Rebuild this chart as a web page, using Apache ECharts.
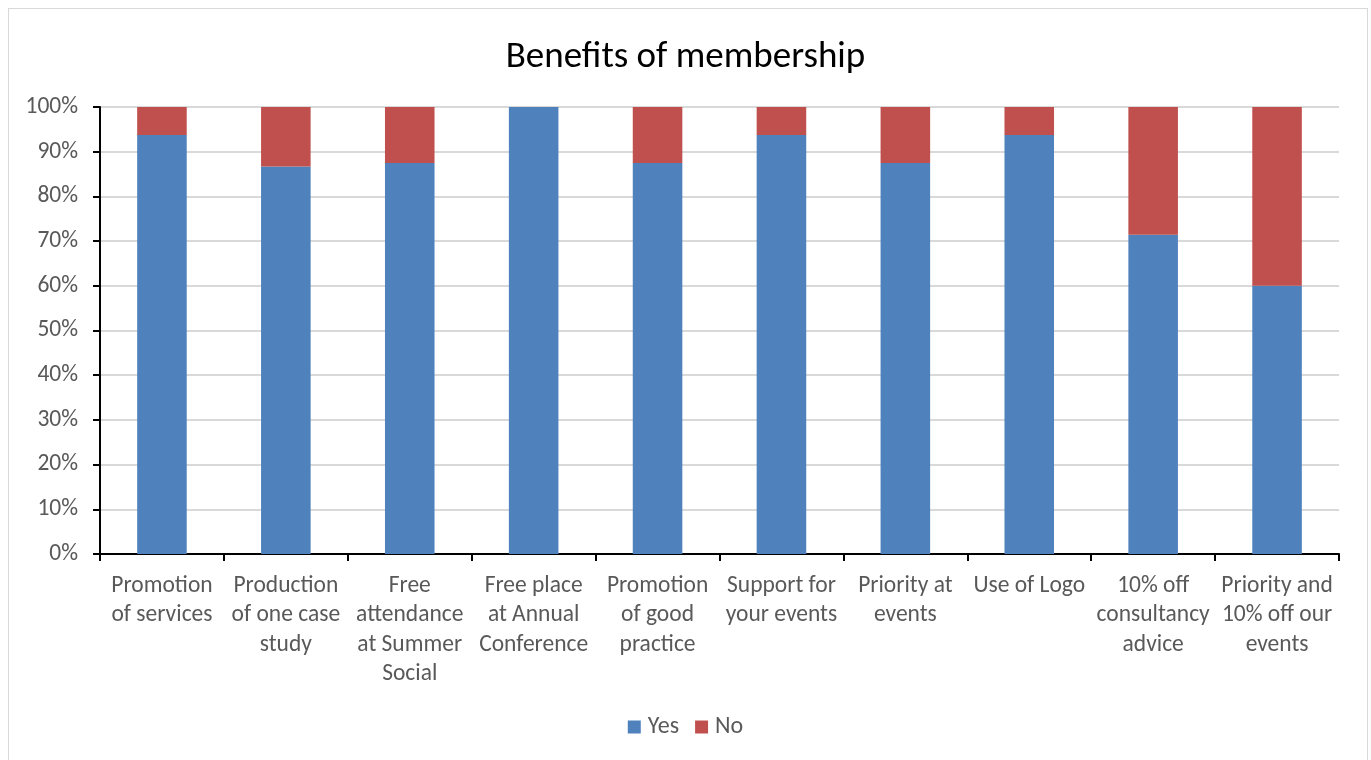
<!DOCTYPE html>
<html>
<head>
<meta charset="utf-8">
<script src="https://cdn.jsdelivr.net/npm/echarts@6/dist/echarts.min.js"></script>
<style>
  html, body { margin: 0; padding: 0; background: #fff; }
  #frame {
    position: absolute; left: 8px; top: 8px; width: 1360px; height: 760px;
    border: 1px solid #d9d9d9; box-sizing: border-box; border-bottom: none;
  }
  #chart { position: absolute; left: 0; top: 0; width: 1371px; height: 760px; }
</style>
</head>
<body>
<div id="frame"></div>
<div id="chart"></div>
<script>
const categories = [
  "Promotion\nof services",
  "Production\nof one case\nstudy",
  "Free\nattendance\nat Summer\nSocial",
  "Free place\nat Annual\nConference",
  "Promotion\nof good\npractice",
  "Support for\nyour events",
  "Priority at\nevents",
  "Use of Logo",
  "10% off\nconsultancy\nadvice",
  "Priority and\n10% off our\nevents"
];
const yesValues = [93.75, 86.67, 87.5, 100, 87.5, 93.75, 87.5, 93.75, 71.43, 60];
const noValues = [6.25, 13.33, 12.5, 0, 12.5, 6.25, 12.5, 6.25, 28.57, 40];

const font = "Calibri, Carlito, 'Noto Sans', sans-serif";
const chart = echarts.init(document.getElementById("chart"));
chart.setOption({
  animation: false,
  color: ["#4f81bd", "#c0504d"],
  title: {
    text: "Benefits of membership",
    left: "center",
    top: 34,
    textStyle: { fontFamily: font, fontSize: 37, fontWeight: "normal", color: "#000" }
  },
  legend: {
    data: ["Yes", "No"],
    bottom: 16,
    left: "center",
    itemWidth: 13,
    itemHeight: 13,
    itemGap: 16,
    icon: "rect",
    textStyle: { fontFamily: font, fontSize: 24, color: "#595959", padding: [0, 0, 0, 2] }
  },
  grid: { left: 100, right: 32, top: 107, bottom: 206, containLabel: false },
  xAxis: {
    type: "category",
    data: categories,
    axisLine: { lineStyle: { color: "#000", width: 2 } },
    axisTick: { show: true, length: 7, lineStyle: { color: "#000", width: 2 } },
    axisLabel: {
      interval: 0, margin: 17, lineHeight: 29.5,
      fontFamily: font, fontSize: 23.5, color: "#595959"
    }
  },
  yAxis: {
    type: "value",
    min: 0, max: 100, interval: 10,
    axisLine: { show: true, lineStyle: { color: "#000", width: 2 } },
    axisTick: { show: true, length: 7, lineStyle: { color: "#000", width: 2 } },
    splitLine: { lineStyle: { color: "#d9d9d9", width: 2 } },
    axisLabel: {
      margin: 22, fontFamily: font, fontSize: 23.5, color: "#595959",
      formatter: "{value}%"
    }
  },
  series: [
    { name: "Yes", type: "bar", stack: "total", data: yesValues, barWidth: "40%" },
    { name: "No", type: "bar", stack: "total", data: noValues, barWidth: "40%" }
  ]
});
</script>
</body>
</html>
